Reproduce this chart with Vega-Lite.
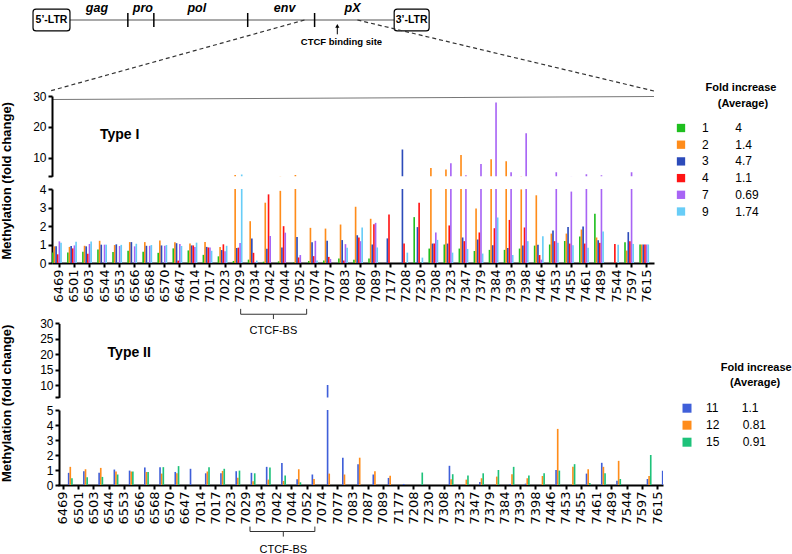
{
  "$schema": "https://vega.github.io/schema/vega-lite/v6.json",
  "padding": 0,
  "background": "white",
  "bounds": "flush",
  "spacing": 12,
  "resolve": {"scale": {"color": "independent"}, "legend": {"color": "independent"}},
  "config": {
    "view": {"stroke": null},
    "font": "Liberation Sans",
    "axis": {"domainColor": "black", "domainWidth": 2, "tickColor": "black", "tickWidth": 2, "tickSize": 4, "labelColor": "black", "labelFont": "Liberation Sans", "labelFontSize": 12, "labelPadding": 2, "labelOverlap": false, "labelBound": false, "labelSeparation": 0, "grid": false, "titleColor": "black", "titleFont": "Liberation Sans", "titleFontSize": 13, "titleFontWeight": "bold"}
  },
  "datasets": {
    "typeI": [
      {"pos":"6469","sample":"1","v":0.57},{"pos":"6469","sample":"2","v":0.9},{"pos":"6469","sample":"3","v":0.9},{"pos":"6469","sample":"4","v":0.47},{"pos":"6469","sample":"7","v":1.17},{"pos":"6469","sample":"9","v":1.1},
      {"pos":"6501","sample":"1","v":0.57},{"pos":"6501","sample":"2","v":0.87},{"pos":"6501","sample":"3","v":0.92},{"pos":"6501","sample":"4","v":0.79},{"pos":"6501","sample":"7","v":0.95},{"pos":"6501","sample":"9","v":1.15},
      {"pos":"6503","sample":"1","v":0.61},{"pos":"6503","sample":"2","v":0.93},{"pos":"6503","sample":"3","v":0.9},{"pos":"6503","sample":"4","v":0.5},{"pos":"6503","sample":"7","v":1.03},{"pos":"6503","sample":"9","v":1.16},
      {"pos":"6544","sample":"1","v":0.73},{"pos":"6544","sample":"2","v":1.2},{"pos":"6544","sample":"3","v":0.99},{"pos":"6544","sample":"7","v":0.99},{"pos":"6544","sample":"9","v":0.99},
      {"pos":"6553","sample":"1","v":0.6},{"pos":"6553","sample":"2","v":0.97},{"pos":"6553","sample":"3","v":1.01},{"pos":"6553","sample":"7","v":0.92},{"pos":"6553","sample":"9","v":0.98},
      {"pos":"6566","sample":"1","v":0.66},{"pos":"6566","sample":"2","v":1.13},{"pos":"6566","sample":"3","v":1.13},{"pos":"6566","sample":"7","v":0.9},{"pos":"6566","sample":"9","v":1.04},
      {"pos":"6568","sample":"1","v":0.61},{"pos":"6568","sample":"2","v":1.13},{"pos":"6568","sample":"3","v":0.93},{"pos":"6568","sample":"7","v":0.93},{"pos":"6568","sample":"9","v":0.97},
      {"pos":"6570","sample":"1","v":0.55},{"pos":"6570","sample":"2","v":1.22},{"pos":"6570","sample":"3","v":0.95},{"pos":"6570","sample":"7","v":0.93},{"pos":"6570","sample":"9","v":0.97},
      {"pos":"6647","sample":"1","v":0.79},{"pos":"6647","sample":"2","v":1.12},{"pos":"6647","sample":"3","v":1.07},{"pos":"6647","sample":"4","v":0.13},{"pos":"6647","sample":"7","v":1.03},{"pos":"6647","sample":"9","v":0.92},
      {"pos":"7014","sample":"1","v":0.68},{"pos":"7014","sample":"2","v":1.05},{"pos":"7014","sample":"3","v":0.95},{"pos":"7014","sample":"4","v":0.95},{"pos":"7014","sample":"7","v":0.86},{"pos":"7014","sample":"9","v":1.1},
      {"pos":"7017","sample":"1","v":0.44},{"pos":"7017","sample":"2","v":1.13},{"pos":"7017","sample":"3","v":0.87},{"pos":"7017","sample":"4","v":0.84},{"pos":"7017","sample":"7","v":0.84},{"pos":"7017","sample":"9","v":0.66},
      {"pos":"7023","sample":"1","v":0.36},{"pos":"7023","sample":"2","v":0.86},{"pos":"7023","sample":"3","v":0.7},{"pos":"7023","sample":"4","v":1.01},{"pos":"7023","sample":"7","v":0.64},{"pos":"7023","sample":"9","v":0.93},
      {"pos":"7029","sample":"1","v":0.11},{"pos":"7029","sample":"2","v":4.4},{"pos":"7029","sample":"3","v":0.81},{"pos":"7029","sample":"4","v":0.83},{"pos":"7029","sample":"7","v":1.08},{"pos":"7029","sample":"9","v":4.6},
      {"pos":"7034","sample":"1","v":0.18},{"pos":"7034","sample":"2","v":2.26},{"pos":"7034","sample":"3","v":1.33},{"pos":"7034","sample":"4","v":0.55},{"pos":"7034","sample":"7","v":0.04},{"pos":"7034","sample":"9","v":0.13},
      {"pos":"7042","sample":"1","v":0.07},{"pos":"7042","sample":"2","v":3.26},{"pos":"7042","sample":"3","v":0.77},{"pos":"7042","sample":"4","v":3.71},{"pos":"7042","sample":"7","v":1.46},
      {"pos":"7044","sample":"1","v":0.09},{"pos":"7044","sample":"2","v":3.9},{"pos":"7044","sample":"3","v":0.84},{"pos":"7044","sample":"4","v":1.99},{"pos":"7044","sample":"7","v":1.64},
      {"pos":"7052","sample":"1","v":0.03},{"pos":"7052","sample":"2","v":4.4},{"pos":"7052","sample":"3","v":1.4},{"pos":"7052","sample":"4","v":0.3},{"pos":"7052","sample":"7","v":0.43},
      {"pos":"7074","sample":"1","v":0.11},{"pos":"7074","sample":"2","v":1.9},{"pos":"7074","sample":"3","v":1.12},{"pos":"7074","sample":"4","v":0.37},{"pos":"7074","sample":"7","v":1.2},{"pos":"7074","sample":"9","v":0.13},
      {"pos":"7077","sample":"1","v":0.14},{"pos":"7077","sample":"2","v":1.86},{"pos":"7077","sample":"3","v":1.2},{"pos":"7077","sample":"4","v":0.33},{"pos":"7077","sample":"7","v":0.22},
      {"pos":"7083","sample":"1","v":0.24},{"pos":"7083","sample":"2","v":2.08},{"pos":"7083","sample":"3","v":1.24},{"pos":"7083","sample":"4","v":0.14},{"pos":"7083","sample":"7","v":1.02},{"pos":"7083","sample":"9","v":0.82},
      {"pos":"7087","sample":"1","v":0.17},{"pos":"7087","sample":"2","v":3.04},{"pos":"7087","sample":"3","v":1.5},{"pos":"7087","sample":"4","v":1.38},{"pos":"7087","sample":"7","v":1.18},{"pos":"7087","sample":"9","v":1.92},
      {"pos":"7089","sample":"1","v":0.24},{"pos":"7089","sample":"2","v":2.39},{"pos":"7089","sample":"3","v":1.0},{"pos":"7089","sample":"4","v":2.1},{"pos":"7089","sample":"7","v":2.17},{"pos":"7089","sample":"9","v":0.84},
      {"pos":"7177","sample":"3","v":1.33},{"pos":"7177","sample":"4","v":2.62},
      {"pos":"7208","sample":"3","v":12.7},{"pos":"7208","sample":"4","v":1.05},{"pos":"7208","sample":"9","v":0.56},
      {"pos":"7230","sample":"1","v":2.48},{"pos":"7230","sample":"3","v":1.94},{"pos":"7230","sample":"4","v":3.26},{"pos":"7230","sample":"9","v":0.29},
      {"pos":"7308","sample":"1","v":0.78},{"pos":"7308","sample":"2","v":6.7},{"pos":"7308","sample":"3","v":1.05},{"pos":"7308","sample":"4","v":1.05},{"pos":"7308","sample":"7","v":1.65},{"pos":"7308","sample":"9","v":1.25},
      {"pos":"7323","sample":"1","v":1.0},{"pos":"7323","sample":"2","v":6.2},{"pos":"7323","sample":"3","v":1.05},{"pos":"7323","sample":"4","v":2.03},{"pos":"7323","sample":"7","v":8.2},{"pos":"7323","sample":"9","v":0.56},
      {"pos":"7347","sample":"1","v":0.78},{"pos":"7347","sample":"2","v":10.9},{"pos":"7347","sample":"3","v":1.38},{"pos":"7347","sample":"4","v":1.18},{"pos":"7347","sample":"7","v":4.3},{"pos":"7347","sample":"9","v":0.76},
      {"pos":"7379","sample":"1","v":0.65},{"pos":"7379","sample":"2","v":2.95},{"pos":"7379","sample":"3","v":1.27},{"pos":"7379","sample":"4","v":1.65},{"pos":"7379","sample":"7","v":8.0},{"pos":"7379","sample":"9","v":0.51},
      {"pos":"7384","sample":"1","v":0.71},{"pos":"7384","sample":"2","v":9.5},{"pos":"7384","sample":"3","v":0.96},{"pos":"7384","sample":"4","v":1.88},{"pos":"7384","sample":"7","v":27.9},{"pos":"7384","sample":"9","v":2.46},
      {"pos":"7393","sample":"1","v":0.71},{"pos":"7393","sample":"2","v":8.9},{"pos":"7393","sample":"3","v":0.81},{"pos":"7393","sample":"4","v":2.33},{"pos":"7393","sample":"7","v":5.3},{"pos":"7393","sample":"9","v":0.43},
      {"pos":"7398","sample":"1","v":0.78},{"pos":"7398","sample":"2","v":3.98},{"pos":"7398","sample":"3","v":0.94},{"pos":"7398","sample":"4","v":1.92},{"pos":"7398","sample":"7","v":17.9},{"pos":"7398","sample":"9","v":1.18},
      {"pos":"7446","sample":"1","v":0.94},{"pos":"7446","sample":"2","v":3.66},{"pos":"7446","sample":"3","v":0.98},{"pos":"7446","sample":"4","v":0.43},{"pos":"7446","sample":"7","v":0.18},{"pos":"7446","sample":"9","v":1.45},
      {"pos":"7453","sample":"1","v":1.0},{"pos":"7453","sample":"2","v":1.59},{"pos":"7453","sample":"3","v":1.76},{"pos":"7453","sample":"4","v":1.18},{"pos":"7453","sample":"7","v":5.3},{"pos":"7453","sample":"9","v":1.09},
      {"pos":"7455","sample":"1","v":1.19},{"pos":"7455","sample":"2","v":1.59},{"pos":"7455","sample":"3","v":1.94},{"pos":"7455","sample":"4","v":1.05},{"pos":"7455","sample":"7","v":3.86},{"pos":"7455","sample":"9","v":0.96},
      {"pos":"7461","sample":"1","v":1.43},{"pos":"7461","sample":"2","v":1.81},{"pos":"7461","sample":"3","v":1.97},{"pos":"7461","sample":"4","v":1.05},{"pos":"7461","sample":"7","v":4.7},{"pos":"7461","sample":"9","v":0.83},
      {"pos":"7489","sample":"1","v":2.66},{"pos":"7489","sample":"2","v":1.38},{"pos":"7489","sample":"3","v":1.23},{"pos":"7489","sample":"4","v":1.09},{"pos":"7489","sample":"7","v":4.3},{"pos":"7489","sample":"9","v":1.7},
      {"pos":"7544","sample":"4","v":1.03},{"pos":"7544","sample":"9","v":0.98},
      {"pos":"7597","sample":"1","v":1.12},{"pos":"7597","sample":"2","v":0.67},{"pos":"7597","sample":"3","v":1.67},{"pos":"7597","sample":"4","v":1.18},{"pos":"7597","sample":"7","v":5.3},{"pos":"7597","sample":"9","v":1.03},
      {"pos":"7615","sample":"1","v":1.0},{"pos":"7615","sample":"2","v":1.0},{"pos":"7615","sample":"3","v":1.0},{"pos":"7615","sample":"4","v":1.0},{"pos":"7615","sample":"7","v":1.0},{"pos":"7615","sample":"9","v":1.0}
    ],
    "typeII": [
      {"pos":"6469","sample":"11","v":0.81},{"pos":"6469","sample":"12","v":1.21},{"pos":"6469","sample":"15","v":0.45},
      {"pos":"6501","sample":"11","v":0.92},{"pos":"6501","sample":"12","v":1.05},{"pos":"6501","sample":"15","v":0.52},
      {"pos":"6503","sample":"11","v":0.81},{"pos":"6503","sample":"12","v":1.14},{"pos":"6503","sample":"15","v":0.54},
      {"pos":"6544","sample":"11","v":1.03},{"pos":"6544","sample":"12","v":0.9},{"pos":"6544","sample":"15","v":0.7},
      {"pos":"6553","sample":"11","v":0.96},{"pos":"6553","sample":"12","v":0.9},{"pos":"6553","sample":"15","v":0.9},
      {"pos":"6566","sample":"11","v":1.17},{"pos":"6566","sample":"12","v":0.87},{"pos":"6566","sample":"15","v":0.87},
      {"pos":"6568","sample":"11","v":1.19},{"pos":"6568","sample":"12","v":0.76},{"pos":"6568","sample":"15","v":1.19},
      {"pos":"6570","sample":"11","v":0.87},{"pos":"6570","sample":"12","v":0.78},{"pos":"6570","sample":"15","v":1.26},
      {"pos":"6647","sample":"11","v":1.08},
      {"pos":"7014","sample":"11","v":0.78},{"pos":"7014","sample":"12","v":0.9},{"pos":"7014","sample":"15","v":1.19},
      {"pos":"7017","sample":"11","v":0.78},{"pos":"7017","sample":"12","v":0.94},{"pos":"7017","sample":"15","v":1.08},
      {"pos":"7023","sample":"11","v":0.92},{"pos":"7023","sample":"12","v":0.49},{"pos":"7023","sample":"15","v":0.96},
      {"pos":"7029","sample":"11","v":0.81},{"pos":"7029","sample":"12","v":0.25},{"pos":"7029","sample":"15","v":0.78},
      {"pos":"7034","sample":"11","v":1.21},{"pos":"7034","sample":"12","v":0.36},{"pos":"7034","sample":"15","v":1.17},
      {"pos":"7042","sample":"11","v":1.46},{"pos":"7042","sample":"12","v":0.27},{"pos":"7042","sample":"15","v":0.63},
      {"pos":"7044","sample":"11","v":0.38},{"pos":"7044","sample":"12","v":1.05},{"pos":"7044","sample":"15","v":0.18},
      {"pos":"7052","sample":"11","v":0.7},{"pos":"7052","sample":"12","v":0.4},
      {"pos":"7074","sample":"11","v":10.0},{"pos":"7074","sample":"12","v":0.76},
      {"pos":"7077","sample":"11","v":1.82},{"pos":"7077","sample":"12","v":0.7},
      {"pos":"7083","sample":"11","v":1.38},{"pos":"7083","sample":"12","v":1.82},
      {"pos":"7087","sample":"11","v":0.7},{"pos":"7087","sample":"12","v":0.92},
      {"pos":"7089","sample":"11","v":0.47},{"pos":"7089","sample":"12","v":0.62},
      {"pos":"7177","sample":"11","v":0.07},
      {"pos":"7208","sample":"15","v":0.83},
      {"pos":"7308","sample":"11","v":1.28},{"pos":"7308","sample":"12","v":0.38},{"pos":"7308","sample":"15","v":0.72},
      {"pos":"7323","sample":"12","v":0.36},{"pos":"7323","sample":"15","v":0.63},
      {"pos":"7347","sample":"11","v":0.2},{"pos":"7347","sample":"12","v":0.45},{"pos":"7347","sample":"15","v":0.78},
      {"pos":"7379","sample":"12","v":0.56},{"pos":"7379","sample":"15","v":1.0},
      {"pos":"7384","sample":"11","v":0.07},{"pos":"7384","sample":"12","v":0.72},{"pos":"7384","sample":"15","v":1.21},
      {"pos":"7393","sample":"11","v":0.09},{"pos":"7393","sample":"12","v":0.45},{"pos":"7393","sample":"15","v":0.63},
      {"pos":"7398","sample":"12","v":0.6},{"pos":"7398","sample":"15","v":0.78},
      {"pos":"7446","sample":"11","v":1.0},{"pos":"7446","sample":"12","v":3.74},{"pos":"7446","sample":"15","v":0.96},
      {"pos":"7453","sample":"12","v":1.21},{"pos":"7453","sample":"15","v":1.39},
      {"pos":"7455","sample":"11","v":0.76},{"pos":"7455","sample":"12","v":1.05},{"pos":"7455","sample":"15","v":0.13},
      {"pos":"7461","sample":"11","v":1.48},{"pos":"7461","sample":"12","v":1.21},{"pos":"7461","sample":"15","v":0.78},
      {"pos":"7489","sample":"11","v":0.29},{"pos":"7489","sample":"12","v":1.61},{"pos":"7489","sample":"15","v":0.4},
      {"pos":"7597","sample":"11","v":0.4},{"pos":"7597","sample":"12","v":0.6},{"pos":"7597","sample":"15","v":2.0},
      {"pos":"7615","sample":"11","v":0.95},{"pos":"7615","sample":"12","v":0.95},{"pos":"7615","sample":"15","v":0.95}
    ]
  },
  "vconcat": [
    {
      "width": 602,
      "height": 83.7,
      "layer": [
        {
          "data": {"values": [{"start": 1389, "end": 8412}]},
          "mark": {"type": "rule", "color": "#8c8c8c", "strokeWidth": 1.5},
          "encoding": {
            "x": {"field": "start", "type": "quantitative", "scale": {"domain": [1000, 14040], "nice": false, "zero": false}, "axis": null},
            "x2": {"field": "end"},
            "y": {"datum": 0.239, "type": "quantitative", "scale": {"domain": [0, 1], "reverse": true, "nice": false, "zero": false}, "axis": null}
          }
        },
        {
          "data": {"values": [{"ltr": "5’-LTR", "start": 589, "end": 1389, "mid": 989}, {"ltr": "3’-LTR", "start": 8412, "end": 9169, "mid": 8790}]},
          "layer": [
            {
              "mark": {"type": "rect", "fill": "white", "stroke": "black", "strokeWidth": 1.2, "cornerRadius": 3},
              "encoding": {
                "x": {"field": "start", "type": "quantitative"},
                "x2": {"field": "end"},
                "y": {"datum": 0.108, "type": "quantitative"},
                "y2": {"datum": 0.37}
              }
            },
            {
              "mark": {"type": "text", "fontWeight": "bold", "fontSize": 10.5, "color": "black"},
              "encoding": {
                "x": {"field": "mid", "type": "quantitative"},
                "y": {"datum": 0.239, "type": "quantitative"},
                "text": {"field": "ltr"}
              }
            }
          ]
        },
        {
          "data": {"values": [{"nt": 2643}, {"nt": 3206}, {"nt": 5239}, {"nt": 6688}]},
          "mark": {"type": "rule", "color": "black", "strokeWidth": 1.5},
          "encoding": {
            "x": {"field": "nt", "type": "quantitative"},
            "y": {"datum": 0.155, "type": "quantitative"},
            "y2": {"datum": 0.323}
          }
        },
        {
          "data": {"values": [{"gene": "gag", "nt": 1973}, {"gene": "pro", "nt": 2968}, {"gene": "pol", "nt": 4136}, {"gene": "env", "nt": 6039}, {"gene": "pX", "nt": 7509}]},
          "mark": {"type": "text", "fontWeight": "bold", "fontStyle": "italic", "fontSize": 12.5, "color": "black"},
          "encoding": {
            "x": {"field": "nt", "type": "quantitative"},
            "y": {"datum": 0.1, "type": "quantitative"},
            "text": {"field": "gene"}
          }
        },
        {
          "data": {"values": [{"site": "CTCF binding site", "nt": 7180, "labelnt": 7270}]},
          "layer": [
            {
              "mark": {"type": "rule", "color": "black", "strokeWidth": 1},
              "encoding": {
                "x": {"field": "nt", "type": "quantitative"},
                "y": {"datum": 0.41, "type": "quantitative"},
                "y2": {"datum": 0.31}
              }
            },
            {
              "mark": {"type": "point", "shape": "triangle-up", "filled": true, "color": "black", "size": 18, "opacity": 1},
              "encoding": {
                "x": {"field": "nt", "type": "quantitative"},
                "y": {"datum": 0.31, "type": "quantitative"}
              }
            },
            {
              "mark": {"type": "text", "fontWeight": "bold", "fontSize": 9.5, "color": "black"},
              "encoding": {
                "x": {"field": "labelnt", "type": "quantitative"},
                "y": {"datum": 0.5, "type": "quantitative"},
                "text": {"field": "site"}
              }
            }
          ]
        },
        {
          "data": {"values": [{"from": 6469, "to": 957}, {"from": 7615, "to": 14040}]},
          "mark": {"type": "rule", "color": "#333333", "strokeWidth": 1.2, "strokeDash": [4, 3]},
          "encoding": {
            "x": {"field": "from", "type": "quantitative"},
            "x2": {"field": "to"},
            "y": {"datum": 0.239, "type": "quantitative"},
            "y2": {"datum": 1.087}
          }
        },
        {
          "data": {"values": [{"from": 1000, "to": 14040}]},
          "mark": {"type": "rule", "color": "#777777", "strokeWidth": 1.2},
          "encoding": {
            "x": {"field": "from", "type": "quantitative"},
            "x2": {"field": "to"},
            "y": {"datum": 1.189, "type": "quantitative"},
            "y2": {"datum": 1.153}
          }
        }
      ]
    },
    {
      "width": 602,
      "height": 80.3,
      "layer": [
        {
          "data": {"name": "typeI"},
          "mark": {"type": "bar", "clip": true},
          "encoding": {
            "x": {"field": "pos", "type": "nominal", "scale": {"domain": ["6469","6501","6503","6544","6553","6566","6568","6570","6647","7014","7017","7023","7029","7034","7042","7044","7052","7074","7077","7083","7087","7089","7177","7208","7230","7308","7323","7347","7379","7384","7393","7398","7446","7453","7455","7461","7489","7544","7597","7615"], "paddingInner": 0.02, "paddingOuter": 0}, "axis": null},
            "xOffset": {"field": "sample", "type": "nominal", "scale": {"domain": ["1","2","3","4","7","9"], "paddingInner": 0, "paddingOuter": 0}},
            "y": {"field": "v", "type": "quantitative", "scale": {"domain": [4, 30], "nice": false, "zero": false}, "axis": {"values": [4, 10, 20, 30], "tickCount": 50, "format": "d", "labelExpr": "datum.value == 4 ? '' : datum.label", "title": null, "labelOverlap": false}},
            "color": {"field": "sample", "type": "nominal", "scale": {"domain": ["1","2","3","4","7","9"], "range": ["#1FBF1F","#FF8C1A","#2C4BBA","#FF1414","#A864F5","#68CDF7"]},
              "legend": {"orient": "none", "legendX": 623, "legendY": -14, "padding": 0,
                "title": ["\u200b\u00a0\u00a0\u00a0\u00a0\u00a0\u00a0\u00a0\u00a0\u00a0\u00a0Fold increase", "\u200b\u00a0\u00a0\u00a0\u00a0\u00a0\u00a0\u00a0\u00a0\u00a0\u00a0\u00a0\u00a0\u00a0\u00a0(Average)"],
                "titleFont": "Liberation Sans", "titleFontSize": 11, "titleFontWeight": "bold", "titleColor": "black", "titleLineHeight": 16, "titlePadding": 13, "titleLimit": 300,
                "symbolType": "square", "symbolSize": 69, "symbolStrokeWidth": 0,
                "labelFont": "Liberation Sans", "labelFontSize": 12, "labelColor": "black", "labelOffset": 15, "labelLimit": 300, "rowPadding": 4.7,
                "labelExpr": "datum.label + '\u00a0\u00a0\u00a0\u00a0\u00a0\u00a0\u00a0\u00a0' + (datum.label == '1' ? '4' : datum.label == '2' ? '1.4' : datum.label == '3' ? '4.7' : datum.label == '4' ? '1.1' : datum.label == '7' ? '0.69' : '1.74')"}}
          }
        },
        {
          "data": {"values": [{"label": "Type I"}]},
          "mark": {"type": "text", "fontWeight": "bold", "fontSize": 14, "color": "black"},
          "encoding": {
            "x": {"datum": "6553", "type": "nominal"},
            "y": {"datum": 17.3, "type": "quantitative"},
            "text": {"field": "label"}
          }
        }
      ]
    },
    {
      "width": 602,
      "height": 74,
      "layer": [
        {
          "data": {"name": "typeI"},
          "mark": {"type": "bar", "clip": true},
          "encoding": {
            "x": {"field": "pos", "type": "nominal", "scale": {"domain": ["6469","6501","6503","6544","6553","6566","6568","6570","6647","7014","7017","7023","7029","7034","7042","7044","7052","7074","7077","7083","7087","7089","7177","7208","7230","7308","7323","7347","7379","7384","7393","7398","7446","7453","7455","7461","7489","7544","7597","7615"], "paddingInner": 0.02, "paddingOuter": 0},
              "axis": {"title": null, "labelAngle": 270, "labelFont": "DejaVu Sans", "labelFontSize": 13, "labelPadding": 2, "labelOverlap": false}},
            "xOffset": {"field": "sample", "type": "nominal", "scale": {"domain": ["1","2","3","4","7","9"], "paddingInner": 0, "paddingOuter": 0}},
            "y": {"field": "v", "type": "quantitative", "scale": {"domain": [0, 4], "nice": false}, "axis": {"values": [0, 1, 2, 3, 4], "tickCount": 50, "format": "d", "labelOverlap": false, "title": "Methylation (fold change)", "titlePadding": 26, "titleY": 70, "titleAlign": "left", "titleAngle": 270}},
            "color": {"field": "sample", "type": "nominal", "scale": {"domain": ["1","2","3","4","7","9"], "range": ["#1FBF1F","#FF8C1A","#2C4BBA","#FF1414","#A864F5","#68CDF7"]}, "legend": null}
          }
        },
        {
          "data": {"values": [{"label": "CTCF-BS"}]},
          "layer": [
            {
              "mark": {"type": "rule", "color": "#333333", "strokeWidth": 1},
              "encoding": {"x": {"datum": "7029", "bandPosition": 0.54}, "x2": {"datum": "7052", "bandPosition": 0.93}, "y": {"datum": -2.77, "type": "quantitative"}}
            },
            {
              "mark": {"type": "rule", "color": "#333333", "strokeWidth": 1},
              "encoding": {"x": {"datum": "7029", "bandPosition": 0.54}, "y": {"datum": -2.77, "type": "quantitative"}, "y2": {"datum": -2.48}}
            },
            {
              "mark": {"type": "rule", "color": "#333333", "strokeWidth": 1},
              "encoding": {"x": {"datum": "7052", "bandPosition": 0.93}, "y": {"datum": -2.77, "type": "quantitative"}, "y2": {"datum": -2.48}}
            },
            {
              "mark": {"type": "rule", "color": "#333333", "strokeWidth": 1},
              "encoding": {"x": {"datum": "7042", "bandPosition": 0.72}, "y": {"datum": -2.77, "type": "quantitative"}, "y2": {"datum": -3.03}}
            },
            {
              "mark": {"type": "text", "fontSize": 11, "color": "black"},
              "encoding": {"x": {"datum": "7042", "bandPosition": 0.72}, "y": {"datum": -3.68, "type": "quantitative"}, "text": {"field": "label"}}
            }
          ]
        }
      ]
    },
    {
      "width": 611,
      "height": 122.4,
      "layer": [
        {
          "data": {"name": "typeII"},
          "mark": {"type": "bar", "clip": true},
          "encoding": {
            "x": {"field": "pos", "type": "nominal", "scale": {"domain": ["6469","6501","6503","6544","6553","6566","6568","6570","6647","7014","7017","7023","7029","7034","7042","7044","7052","7074","7077","7083","7087","7089","7177","7208","7230","7308","7323","7347","7379","7384","7393","7398","7446","7453","7455","7461","7489","7544","7597","7615"], "paddingInner": 0.28, "paddingOuter": 0, "range": [6, 611]}, "axis": null},
            "xOffset": {"field": "sample", "type": "nominal", "scale": {"domain": ["11","12","15"], "paddingInner": 0.15, "paddingOuter": 0}},
            "y": {"field": "v", "type": "quantitative", "scale": {"domain": [6, 30], "range": [122.4, 48.4], "nice": false, "zero": false}, "axis": {"values": [6, 10, 15, 20, 25, 30], "tickCount": 50, "format": "d", "labelExpr": "datum.value == 6 ? '' : datum.label", "labelOverlap": false, "title": null, "offset": -7}},
            "color": {"field": "sample", "type": "nominal", "scale": {"domain": ["11","12","15"], "range": ["#3F5FD9","#FF8C1A","#1EC27A"]},
              "legend": {"orient": "none", "legendX": 629, "legendY": 87.2, "padding": 0,
                "title": ["\u200b\u00a0\u00a0\u00a0\u00a0\u00a0\u00a0\u00a0\u00a0\u00a0\u00a0\u00a0\u00a0\u00a0Fold increase", "\u200b\u00a0\u00a0\u00a0\u00a0\u00a0\u00a0\u00a0\u00a0\u00a0\u00a0\u00a0\u00a0\u00a0\u00a0\u00a0\u00a0(Average)"],
                "titleFont": "Liberation Sans", "titleFontSize": 11, "titleFontWeight": "bold", "titleColor": "black", "titleLineHeight": 15, "titlePadding": 14, "titleLimit": 300,
                "symbolType": "square", "symbolSize": 81, "symbolStrokeWidth": 0,
                "labelFont": "Liberation Sans", "labelFontSize": 12, "labelColor": "black", "labelOffset": 13, "labelLimit": 300, "rowPadding": 5,
                "labelExpr": "datum.label + '\u00a0\u00a0\u00a0\u00a0\u00a0\u00a0\u00a0' + (datum.label == '11' ? '1.1' : datum.label == '12' ? '0.81' : '0.91')"}}
          }
        },
        {
          "data": {"values": [{"label": "Type II"}]},
          "mark": {"type": "text", "fontWeight": "bold", "fontSize": 14, "color": "black"},
          "encoding": {
            "x": {"datum": "6553", "type": "nominal", "bandPosition": 0.94},
            "y": {"datum": 20.3, "type": "quantitative"},
            "text": {"field": "label"}
          }
        }
      ]
    },
    {
      "width": 611,
      "height": 75,
      "layer": [
        {
          "data": {"name": "typeII"},
          "mark": {"type": "bar", "clip": true},
          "encoding": {
            "x": {"field": "pos", "type": "nominal", "scale": {"domain": ["6469","6501","6503","6544","6553","6566","6568","6570","6647","7014","7017","7023","7029","7034","7042","7044","7052","7074","7077","7083","7087","7089","7177","7208","7230","7308","7323","7347","7379","7384","7393","7398","7446","7453","7455","7461","7489","7544","7597","7615"], "paddingInner": 0.28, "paddingOuter": 0, "range": [6, 611]},
              "axis": {"title": null, "labelAngle": 270, "labelFont": "DejaVu Sans", "labelFontSize": 13, "labelPadding": 2, "labelOverlap": false}},
            "xOffset": {"field": "sample", "type": "nominal", "scale": {"domain": ["11","12","15"], "paddingInner": 0.15, "paddingOuter": 0}},
            "y": {"field": "v", "type": "quantitative", "scale": {"domain": [0, 5], "nice": false}, "axis": {"values": [0, 1, 2, 3, 4, 5], "tickCount": 50, "format": "d", "labelOverlap": false, "title": "Methylation (fold change)", "titlePadding": 33, "titleY": 71.6, "titleAlign": "left", "titleAngle": 270, "offset": -7}},
            "color": {"field": "sample", "type": "nominal", "scale": {"domain": ["11","12","15"], "range": ["#3F5FD9","#FF8C1A","#1EC27A"]}, "legend": null}
          }
        },
        {
          "data": {"values": [{"label": "CTCF-BS"}]},
          "layer": [
            {
              "mark": {"type": "rule", "color": "#333333", "strokeWidth": 1},
              "encoding": {"x": {"datum": "7029", "bandPosition": 0.84}, "x2": {"datum": "7052", "bandPosition": 1.2}, "y": {"datum": -3.1, "type": "quantitative"}}
            },
            {
              "mark": {"type": "rule", "color": "#333333", "strokeWidth": 1},
              "encoding": {"x": {"datum": "7029", "bandPosition": 0.84}, "y": {"datum": -3.1, "type": "quantitative"}, "y2": {"datum": -2.77}}
            },
            {
              "mark": {"type": "rule", "color": "#333333", "strokeWidth": 1},
              "encoding": {"x": {"datum": "7052", "bandPosition": 1.2}, "y": {"datum": -3.1, "type": "quantitative"}, "y2": {"datum": -2.77}}
            },
            {
              "mark": {"type": "rule", "color": "#333333", "strokeWidth": 1},
              "encoding": {"x": {"datum": "7042", "bandPosition": 1.1}, "y": {"datum": -3.1, "type": "quantitative"}, "y2": {"datum": -3.44}}
            },
            {
              "mark": {"type": "text", "fontSize": 11, "color": "black"},
              "encoding": {"x": {"datum": "7042", "bandPosition": 1.1}, "y": {"datum": -4.3, "type": "quantitative"}, "text": {"field": "label"}}
            }
          ]
        }
      ]
    }
  ]
}
